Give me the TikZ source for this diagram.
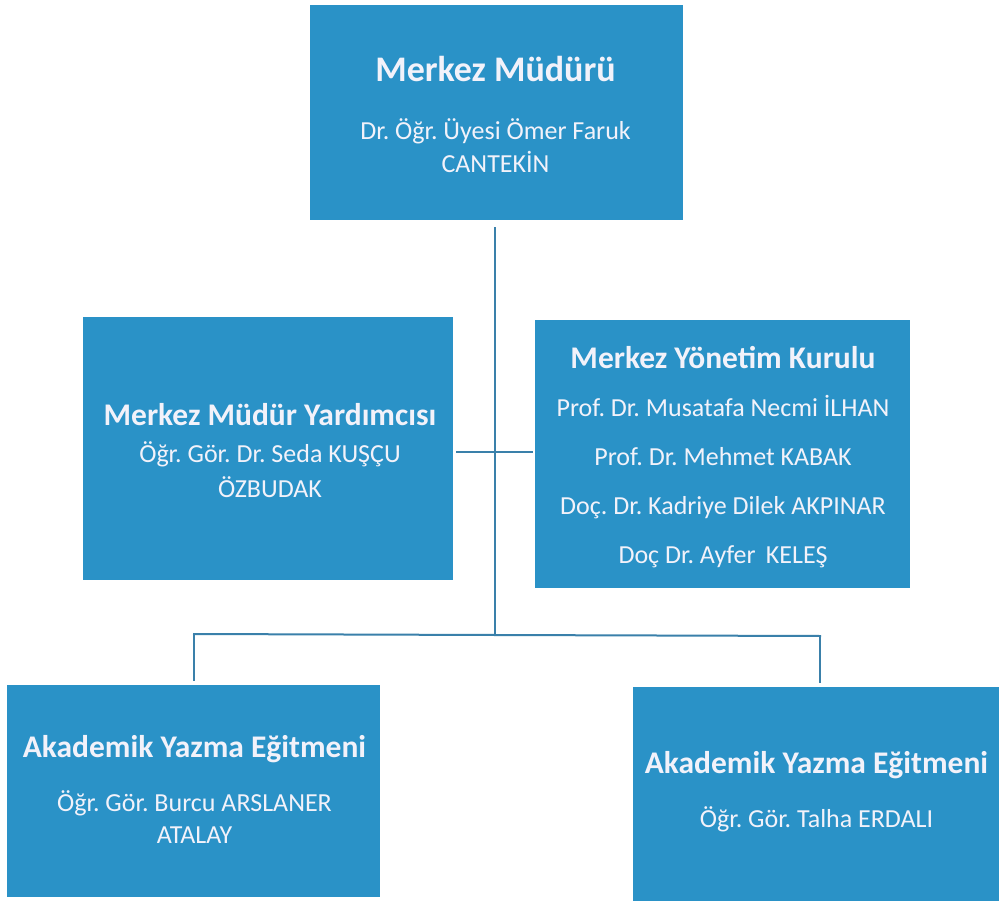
\documentclass[tikz,border=0pt]{standalone}
\usepackage{fontspec}
\setmainfont{Carlito}
\frenchspacing
\definecolor{boxblue}{RGB}{42,146,199}
\definecolor{linecol}{RGB}{58,128,170}
\definecolor{txtcol}{RGB}{242,242,250}
\tikzset{
  orgbox/.style={draw=none, fill=boxblue, rectangle, inner sep=0pt},
  bigtitle/.style={anchor=base, text=txtcol, inner sep=0pt, font=\fontsize{36}{40}\selectfont\bfseries},
  boxtitle/.style={anchor=base, text=txtcol, inner sep=0pt, font=\fontsize{31.5}{36}\selectfont\bfseries},
  subline/.style={anchor=base, text=txtcol, inner sep=0pt, font=\fontsize{26}{30}\selectfont},
  conn/.style={draw=linecol, line width=2pt}
}
\begin{document}
\begin{tikzpicture}[x=1pt, y=-1pt]
\useasboundingbox[fill=white] (0,0) rectangle (999,901);
% boxes
\node[orgbox, minimum width=373pt, minimum height=215pt] (top) at (496.5,112.5) {};
\node[orgbox, minimum width=370pt, minimum height=263pt] (vice) at (268,448.5) {};
\node[orgbox, minimum width=375pt, minimum height=268pt] (board) at (722.5,454) {};
\node[orgbox, minimum width=373pt, minimum height=212pt] (edu1) at (193.5,791) {};
\node[orgbox, minimum width=372pt, minimum height=224pt] (edu2) at (819,799) {};
% connectors
\coordinate (hub) at (495,635);
\coordinate (hl) at (194,634);
\coordinate (hr) at (820,636);
\draw[conn] ([yshift=-7pt]top.south -| hub) -- (hub);
\draw[conn, shorten <=3pt, shorten >=2pt] (vice.east |- 0,452) -- (board.west |- 0,452);
\draw[conn, line cap=rect] (hl) -- (hub) -- (hr);
\draw[conn] (hl) -- ([yshift=4pt]edu1.north -| hl);
\draw[conn] (hr) -- ([yshift=4pt]edu2.north -| hr);
% texts
\node[bigtitle] (t0) at (495.5,82) {Merkez Müdürü};
\node[subline] (t1) at (495.5,140) {Dr. Öğr. Üyesi Ömer Faruk};
\node[subline] (t2) at (495.5,173) {CANTEKİN};
\node[boxtitle] (v0) at (270,425) {Merkez Müdür Yardımcısı};
\node[subline] (v1) at (270,462) {Öğr. Gör. Dr. Seda KUŞÇU};
\node[subline] (v2) at (270,497) {ÖZBUDAK};
\node[boxtitle] (b0) at (723,368) {Merkez Yönetim Kurulu};
\node[subline] (b1) at (723,416) {Prof. Dr. Musatafa Necmi İLHAN};
\node[subline] (b2) at (723,465) {Prof. Dr. Mehmet KABAK};
\node[subline] (b3) at (723,514) {Doç. Dr. Kadriye Dilek AKPINAR};
\node[subline] (b4) at (723,563) {Doç Dr. Ayfer\ \,KELEŞ};
\node[boxtitle] (e0) at (194.5,757) {Akademik Yazma Eğitmeni};
\node[subline] (e1) at (194.5,811) {Öğr. Gör. Burcu ARSLANER};
\node[subline] (e2) at (194.5,843) {ATALAY};
\node[boxtitle] (f0) at (816.5,773) {Akademik Yazma Eğitmeni};
\node[subline] (f1) at (816.5,827) {Öğr. Gör. Talha ERDALI};
\end{tikzpicture}
\end{document}
